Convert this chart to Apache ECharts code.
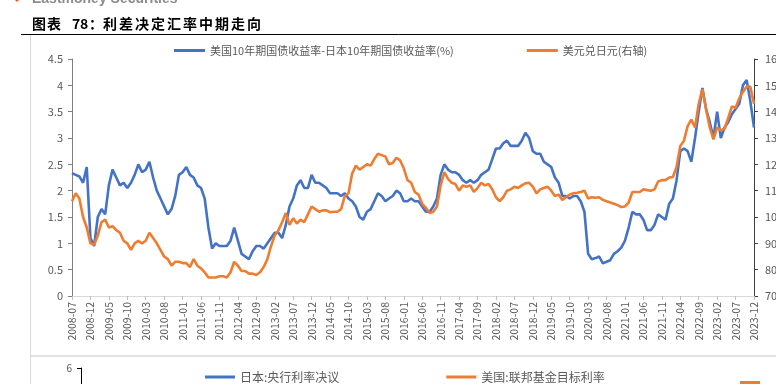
<!DOCTYPE html>
<html><head><meta charset="utf-8">
<script src="https://cdn.jsdelivr.net/npm/echarts@6/dist/echarts.min.js"></script>
<style>html,body{margin:0;padding:0;background:#fff;overflow:hidden}#c{width:776px;height:384px}</style>
</head><body><div id="c"></div>
<script>
// categories (monthly, 2008-07 .. 2023-12)
var months = [];
for (var yy = 2008; yy <= 2023; yy++) { for (var mm = 1; mm <= 12; mm++) { if (yy === 2008 && mm < 7) continue; months.push(yy + '-' + (mm < 10 ? '0' + mm : mm)); } }

var spreadName = '美国10年期国债收益率-日本10年期国债收益率(%)';
var fxName = '美元兑日元(右轴)';
var bojName = '日本:央行利率决议';
var fedName = '美国:联邦基金目标利率';

var spread = [
2.33,2.30,2.27,2.15,2.45,1.10,0.95,1.50,1.65,1.55,
2.10,2.40,2.25,2.10,2.15,2.05,2.15,2.30,2.50,2.35,
2.40,2.55,2.25,2.00,1.85,1.70,1.55,1.65,1.90,2.30,
2.35,2.45,2.30,2.25,2.10,2.05,1.85,1.30,0.90,1.00,
0.95,0.95,0.95,1.05,1.30,1.05,0.80,0.75,0.70,0.85,
0.95,0.95,0.90,1.00,1.10,1.20,1.20,1.10,1.35,1.70,
1.85,2.10,2.20,2.05,2.05,2.30,2.15,2.15,2.10,2.05,
1.95,1.95,1.95,1.90,1.95,1.85,1.80,1.70,1.50,1.45,
1.60,1.65,1.80,1.95,1.90,1.80,1.85,1.90,2.00,1.95,
1.80,1.80,1.85,1.80,1.80,1.70,1.60,1.60,1.70,1.85,
2.30,2.50,2.40,2.35,2.35,2.30,2.20,2.15,2.20,2.15,
2.20,2.30,2.35,2.40,2.60,2.80,2.80,2.90,2.95,2.85,
2.85,2.85,2.95,3.10,3.00,2.75,2.70,2.70,2.55,2.50,
2.45,2.25,2.15,1.90,1.90,1.85,1.90,1.90,1.80,1.60,
0.80,0.70,0.72,0.75,0.62,0.65,0.68,0.80,0.85,0.92,
1.05,1.30,1.60,1.55,1.55,1.45,1.25,1.25,1.35,1.55,
1.50,1.45,1.75,1.85,2.20,2.75,2.80,2.75,2.55,3.00,
3.50,3.95,3.55,3.30,3.00,3.50,3.00,3.20,3.30,3.45,
3.55,3.65,4.00,4.10,3.70,3.20];

var usdjpy = [
106,109,107,100,96,90,89.5,93,98,99,
96,96.5,95,94,91,90,87.5,90,91,90,
91,94,92,90,87.5,85,84,81.5,83,83,
82.5,82.5,81,84,81.5,80.5,79,77,77,77,
77.5,77.5,77,79,83,81.5,79.5,79.5,78.5,78.5,
78,79,81,84,89,93,95,98,101.5,97,
99.5,97.5,99,98,101,104,103,102,102.5,102.5,
101.8,102,102,103,108,109,116.5,119.5,118,119,
120,119.5,122,124,123.5,123,120,120.5,122.5,121.5,
118.5,114,113,109.5,108.5,105,103.5,101.5,102,104,
112,117,114.5,113,112.5,110,112,111.5,112,109.5,
111,113,112,112.5,110.5,107.5,106,107.5,110,110.5,
111.5,111,112,112.8,113,111.5,109,110.5,111,111.5,
110,108,108.5,106.5,107.5,108.5,109,109.2,109.5,110,
107,107.5,107.3,107.5,106.5,106,105.5,105,104.5,103.8,
104,105.5,109.5,109.5,109.5,110.5,110.2,110,110.5,113.5,
114,114,115,115.2,119,127,129,134.5,137,134,
143,148.5,141,134,129.5,134,133,133.5,137.5,142,
141.5,145,147.5,149.5,149.5,143];

var bojRate = [];
var fedRate = [];

var BLUE = '#4472C4', ORANGE = '#ED7D31', GRAY = '#595959';
var FONT = '"Noto Sans CJK SC", "Liberation Sans", sans-serif';

// title characters laid out with spacing
var titleParts = [];
var t1 = '图表', t3 = '利差决定汇率中期走向';
for (var i = 0; i < t1.length; i++) titleParts.push({ t: t1[i], x: 32 + 15 * i });
titleParts.push({ t: '7', x: 72 }); titleParts.push({ t: '8', x: 80 }); titleParts.push({ t: '：', x: 89 });
for (var j = 0; j < t3.length; j++) titleParts.push({ t: t3[j], x: 103 + 16 * j });

var graphics = [
  { type: 'polygon', shape: { points: [[13, -2], [17, -6], [21, -2], [17, 2]] }, style: { fill: '#E8641B' } },
  { type: 'text', style: { text: 'Eastmoney Securities', x: 32, y: 6, verticalAlign: 'bottom', align: 'left', font: 'bold 14px "Liberation Sans", Arial', fill: '#8c8c8c' } },
  { type: 'line', shape: { x1: 21, y1: 34.5, x2: 776, y2: 34.5 }, style: { stroke: '#000', lineWidth: 1 } },
  { type: 'line', shape: { x1: 30.5, y1: 35, x2: 30.5, y2: 384 }, style: { stroke: '#d9d9d9', lineWidth: 1 } },
  { type: 'line', shape: { x1: 30, y1: 356, x2: 776, y2: 356 }, style: { stroke: '#d9d9d9', lineWidth: 1.5 } },
  { type: 'rect', shape: { x: 740, y: 381, width: 20, height: 4 }, style: { fill: ORANGE } }
];
titleParts.forEach(function (p) {
  graphics.push({ type: 'text', style: { text: p.t, x: p.x, y: 24, verticalAlign: 'middle', align: 'left', font: 'bold 14px ' + FONT, fill: '#000' } });
});

var chart = echarts.init(document.getElementById('c'), null, { renderer: 'canvas' });
chart.setOption({
  animation: false,
  backgroundColor: '#fff',
  textStyle: { fontFamily: FONT },
  graphic: graphics,
  legend: [
    { data: [spreadName, fxName], left: 169, top: 40, icon: 'rect', itemWidth: 31, itemHeight: 3, itemGap: 73,
      textStyle: { fontSize: 11, color: GRAY, fontFamily: FONT } },
    { data: [bojName, fedName], left: 200, top: 366, icon: 'rect', itemWidth: 30, itemHeight: 3, itemGap: 107,
      textStyle: { fontSize: 12, color: GRAY, fontFamily: FONT } }
  ],
  grid: [
    { left: 72, right: 22, top: 59, bottom: 88, containLabel: false, outerBoundsMode: 'none' },
    { left: 81, right: 22, top: 368, height: 216, containLabel: false, outerBoundsMode: 'none' }
  ],
  xAxis: [
    { type: 'category', gridIndex: 0, data: months, boundaryGap: false,
      axisLine: { lineStyle: { color: '#d9d9d9' } },
      axisTick: { interval: 4, length: 4, lineStyle: { color: '#bfbfbf' } },
      axisLabel: { interval: 4, rotate: 90, fontSize: 10.5, color: GRAY, margin: 6, hideOverlap: false } },
    { type: 'category', gridIndex: 1, data: months, show: false }
  ],
  yAxis: [
    { type: 'value', gridIndex: 0, min: 0, max: 4.5, interval: 0.5,
      axisLine: { show: true, lineStyle: { color: '#7f7f7f' } },
      axisTick: { show: true, length: 4, lineStyle: { color: '#7f7f7f' } },
      axisLabel: { fontSize: 11, color: GRAY, margin: 9 },
      splitLine: { show: false } },
    { type: 'value', gridIndex: 0, position: 'right', min: 70, max: 160, interval: 10,
      axisLine: { show: true, lineStyle: { color: '#404040' } },
      axisTick: { show: true, length: 4, lineStyle: { color: '#404040' } },
      axisLabel: { fontSize: 11, color: GRAY, margin: 11 },
      splitLine: { show: false } },
    { type: 'value', gridIndex: 1, min: 0, max: 6, interval: 6,
      axisLine: { show: true, lineStyle: { color: '#000' } },
      axisTick: { show: true, length: 4, lineStyle: { color: '#000' } },
      axisLabel: { fontSize: 10, color: GRAY, margin: 9 },
      splitLine: { show: false } }
  ],
  series: [
    { name: spreadName, type: 'line', xAxisIndex: 0, yAxisIndex: 0, data: spread, showSymbol: false,
      lineStyle: { color: BLUE, width: 2.6 }, itemStyle: { color: BLUE } },
    { name: fxName, type: 'line', xAxisIndex: 0, yAxisIndex: 1, data: usdjpy, showSymbol: false,
      lineStyle: { color: ORANGE, width: 2.6 }, itemStyle: { color: ORANGE } },
    { name: bojName, type: 'line', xAxisIndex: 1, yAxisIndex: 2, data: bojRate, showSymbol: false,
      lineStyle: { color: BLUE, width: 2.6 }, itemStyle: { color: BLUE } },
    { name: fedName, type: 'line', xAxisIndex: 1, yAxisIndex: 2, data: fedRate, showSymbol: false,
      lineStyle: { color: ORANGE, width: 2.6 }, itemStyle: { color: ORANGE } }
  ]
});
</script></body></html>
